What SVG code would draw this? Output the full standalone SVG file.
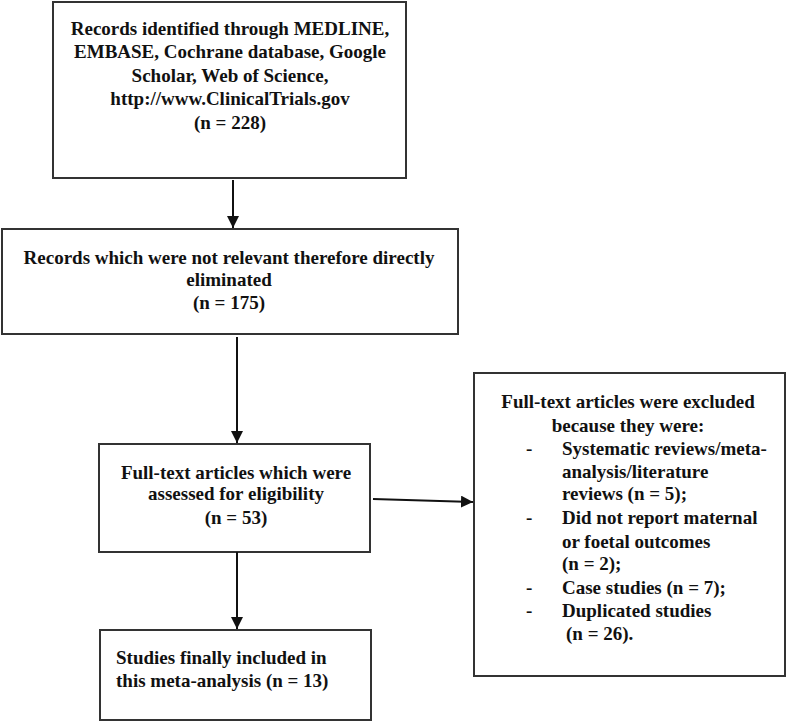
<svg xmlns="http://www.w3.org/2000/svg" width="786" height="722" viewBox="0 0 786 722">
<style>
.box{fill:#fff;stroke:#333;stroke-width:2}
text{font-family:"Liberation Serif","Times New Roman",serif;font-weight:bold;font-size:19px;fill:#111}
.c{text-anchor:middle}
.edge{stroke:#111;stroke-width:2;fill:none}
</style>
<defs>
<marker id="ah" viewBox="0 0 12 12" refX="12" refY="6" markerWidth="12" markerHeight="12" markerUnits="userSpaceOnUse" orient="auto">
<path d="M0,0 L12,6 L0,12 z" fill="#111"/>
</marker>
</defs>
<rect width="786" height="722" fill="#fff"/>
<g id="n1">
<rect class="box" x="53" y="2" width="353" height="176"/>
<text class="c" x="230" y="35">Records identified through MEDLINE,</text>
<text class="c" x="230" y="58">EMBASE, Cochrane database, Google</text>
<text class="c" x="230" y="82">Scholar, Web of Science,</text>
<text class="c" x="230" y="105">http://www.ClinicalTrials.gov</text>
<text class="c" x="230" y="129">(n = 228)</text>
</g>
<g id="n2">
<rect class="box" x="2" y="229" width="456" height="105"/>
<text class="c" x="229" y="264">Records which were not relevant therefore directly</text>
<text class="c" x="229" y="286">eliminated</text>
<text class="c" x="229" y="309">(n = 175)</text>
</g>
<g id="n3">
<rect class="box" x="99" y="444" width="271" height="108"/>
<text class="c" x="236" y="479">Full-text articles which were</text>
<text class="c" x="236" y="500">assessed for eligibility</text>
<text class="c" x="236" y="524">(n = 53)</text>
</g>
<g id="n4">
<rect class="box" x="100" y="630" width="271" height="90"/>
<text x="116" y="664">Studies finally included in</text>
<text x="116" y="687">this meta-analysis (n = 13)</text>
</g>
<g id="n5">
<rect class="box" x="474" y="373" width="311" height="303"/>
<text class="c" x="628" y="408">Full-text articles were excluded</text>
<text class="c" x="628" y="432">because they were:</text>
<text x="526" y="455">-</text>
<text x="562" y="455">Systematic reviews/meta-</text>
<text x="562" y="478">analysis/literature</text>
<text x="562" y="500">reviews (n = 5);</text>
<text x="526" y="524">-</text>
<text x="562" y="524">Did not report maternal</text>
<text x="562" y="548">or foetal outcomes</text>
<text x="562" y="570">(n = 2);</text>
<text x="526" y="594">-</text>
<text x="562" y="594">Case studies (n = 7);</text>
<text x="526" y="617">-</text>
<text x="562" y="617">Duplicated studies</text>
<text x="566" y="640">(n = 26).</text>
</g>
<g id="edges">
<line class="edge" x1="233" y1="180" x2="233" y2="228" marker-end="url(#ah)"/>
<line class="edge" x1="237" y1="337" x2="237" y2="443" marker-end="url(#ah)"/>
<line class="edge" x1="237" y1="552" x2="237" y2="629" marker-end="url(#ah)"/>
<line class="edge" x1="373" y1="499" x2="473" y2="502" marker-end="url(#ah)"/>
</g>
</svg>
